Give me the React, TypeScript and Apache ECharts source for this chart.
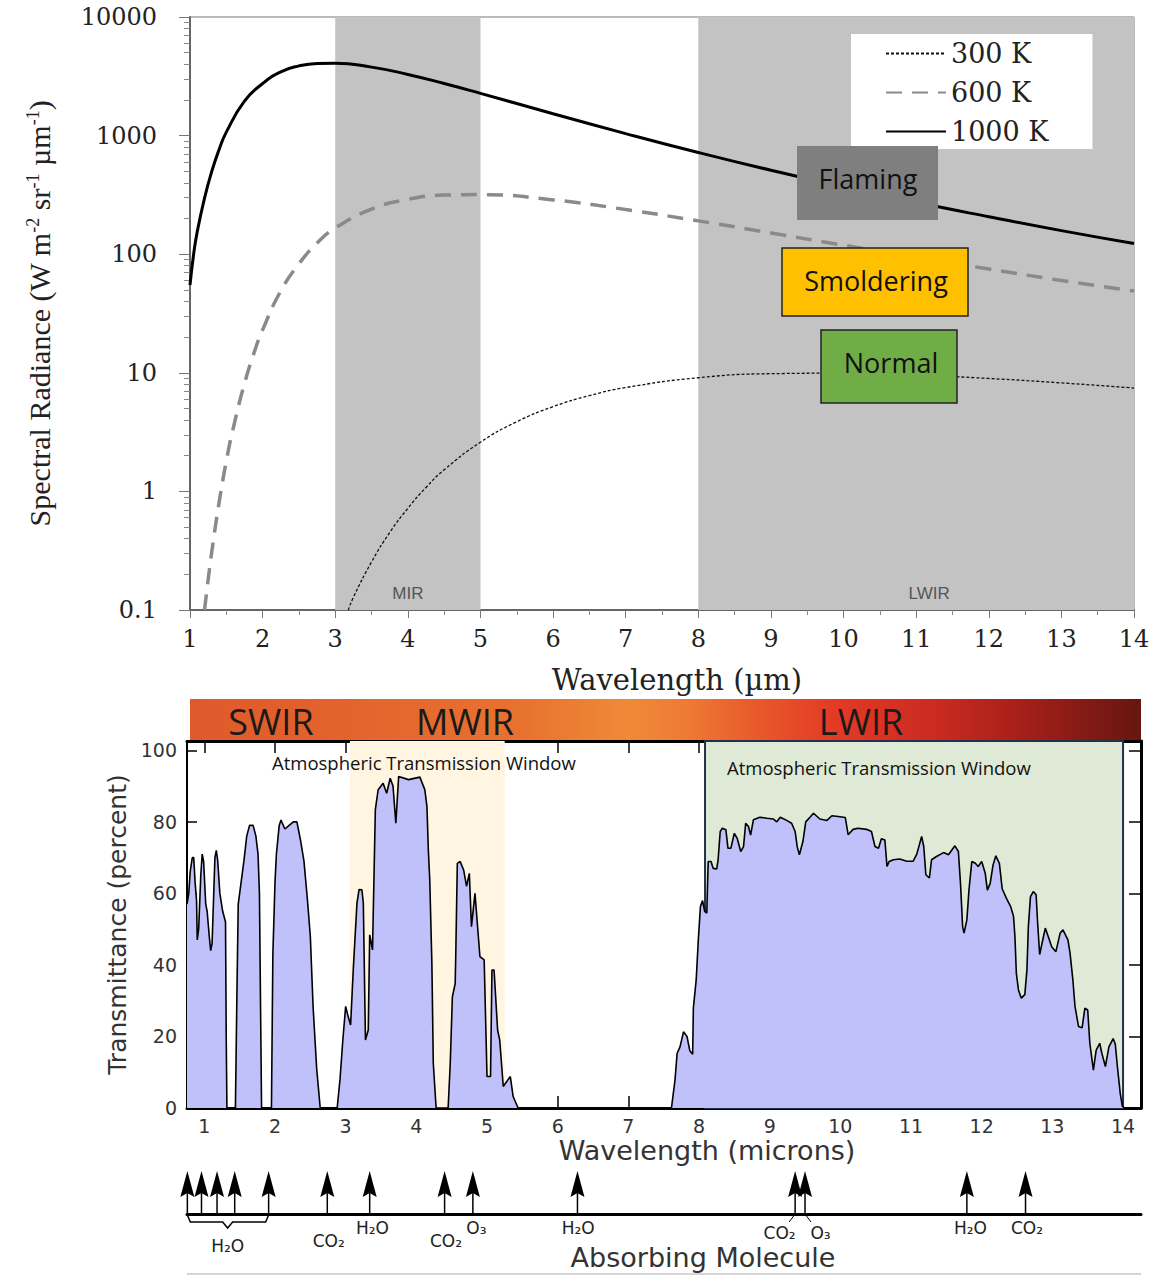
import React, { useEffect, useRef } from 'react';
import * as echarts from 'echarts';

// ---------- Top chart: blackbody spectral radiance ----------
const wl1000 = [1, 1.05, 1.1, 1.2, 1.3, 1.4, 1.5, 1.75, 2, 2.25, 2.5, 2.75, 3, 3.5, 4, 4.5, 5, 6, 7, 8, 9, 10, 11, 12, 13, 14];
const rad1000 = [55, 100, 155, 297, 500, 760, 1070, 1950, 2750, 3450, 3870, 4060, 4080, 3780, 3280, 2750, 2270, 1530, 1040, 720, 510, 370, 274, 207, 158, 123];

const wl600 = [1.2, 1.25, 1.3, 1.4, 1.5, 1.6, 1.75, 1.9, 2, 2.25, 2.5, 2.75, 3, 3.5, 4, 4.5, 5, 6, 7, 8, 9, 10, 11, 12, 13, 14];
const rad600 = [0.1, 0.18, 0.31, 0.8, 1.8, 3.5, 8.1, 15.9, 23, 49, 83, 124, 166, 240, 290, 315, 318, 287, 238, 191, 151, 119, 94, 75, 60, 49];

const wl300 = [3.18, 3.25, 3.5, 3.75, 4, 4.25, 4.5, 5, 5.5, 6, 6.5, 7, 8, 9, 10, 11, 12, 13, 14];
const rad300 = [0.1, 0.128, 0.254, 0.45, 0.72, 1.08, 1.52, 2.6, 3.87, 5.18, 6.42, 7.51, 9.08, 9.83, 9.93, 9.57, 8.96, 8.22, 7.44];

const radianceBands = [
  { name: 'MIR', from: 3, to: 5 },
  { name: 'LWIR', from: 8, to: 14 },
];

// ---------- Bottom chart: atmospheric transmittance ----------
const transWl = [
  0.755, 0.78, 0.8, 0.83, 0.85, 0.87, 0.89, 0.9, 0.92, 0.95, 0.97, 0.99, 1.02, 1.04, 1.07, 1.09, 1.11, 1.13, 1.15, 1.17, 1.19, 1.22, 1.26, 1.3, 1.31, 1.32,
  1.44, 1.46, 1.48, 1.52, 1.56, 1.6, 1.64, 1.69, 1.73, 1.76, 1.78, 1.8, 1.81,
  1.95, 1.97, 2.0, 2.02, 2.06, 2.085, 2.14, 2.2, 2.26, 2.31, 2.36, 2.41, 2.46, 2.5, 2.54, 2.59, 2.64,
  2.88, 2.92, 2.96, 3.0, 3.03, 3.07, 3.11, 3.16, 3.19, 3.23, 3.25, 3.28, 3.32, 3.34, 3.38, 3.42, 3.46, 3.53, 3.58, 3.63, 3.67, 3.71, 3.75, 3.89, 4.05, 4.12, 4.15, 4.17, 4.19, 4.22, 4.24, 4.28,
  4.45, 4.48, 4.51, 4.55, 4.56, 4.58, 4.62, 4.67, 4.71, 4.75, 4.78, 4.83, 4.9, 4.96, 5.0, 5.05, 5.07, 5.1, 5.15, 5.18, 5.23, 5.33, 5.37, 5.44,
  7.61, 7.66, 7.69, 7.73, 7.78, 7.83, 7.87, 7.91, 7.92, 7.96, 7.99, 8.02, 8.05, 8.08, 8.11, 8.13, 8.17, 8.2, 8.25, 8.27, 8.3, 8.33, 8.38, 8.41, 8.45, 8.5, 8.54, 8.59, 8.63, 8.66, 8.7, 8.73, 8.77, 8.86, 8.96,
  9.05, 9.1, 9.15, 9.24, 9.31, 9.36, 9.39, 9.42, 9.47, 9.51, 9.57, 9.62, 9.71, 9.81, 9.88, 9.97, 10.07, 10.11, 10.18, 10.25, 10.37, 10.44, 10.49, 10.54, 10.58, 10.63, 10.66, 10.69, 10.75, 10.84, 10.94,
  11.03, 11.08, 11.15, 11.18, 11.21, 11.26, 11.29, 11.36, 11.46, 11.53, 11.58, 11.62, 11.67, 11.7, 11.73, 11.75, 11.79, 11.82, 11.86, 11.91, 11.95,
  12.0, 12.05, 12.08, 12.12, 12.16, 12.2, 12.25, 12.29, 12.35, 12.41, 12.45, 12.47, 12.49, 12.52, 12.56, 12.61, 12.64, 12.66, 12.69, 12.73, 12.77, 12.79, 12.82, 12.85, 12.9, 12.94, 12.99,
  13.05, 13.11, 13.15, 13.22, 13.25, 13.29, 13.32, 13.37, 13.42, 13.46, 13.5, 13.53, 13.58, 13.62, 13.67, 13.7, 13.75, 13.8, 13.86, 13.89, 13.92, 13.96, 13.99, 14.02, 14.254,
];
const transPct = [
  57, 60, 66, 70, 70, 63, 58, 47, 50, 65, 71, 69, 57, 55, 48, 44, 46, 58, 70, 72, 69, 60, 55, 52, 20, 0,
  0, 30, 57, 63, 69, 76, 79, 79, 76, 71, 60, 20, 0,
  0, 43, 63, 71, 79, 80.5, 78, 79, 80, 80, 75, 69, 58, 48, 28, 11, 0,
  0, 8, 19, 28.4, 26, 23.2, 39.6, 57.3, 61.1, 61, 57.3, 19, 21.8, 48.4, 44.2, 83.4, 89, 90.8, 88, 92.2, 90, 79.6, 92.7, 91.8, 92.5, 89, 84.3, 72.1, 63.8, 40.5, 12.5, 0,
  0, 12.5, 31.1, 34.8, 45.1, 68.4, 68.9, 66.5, 62, 65.6, 50.7, 60, 42.3, 41.4, 8.8, 8.8, 38.6, 38.6, 21.8, 19, 6, 8.8, 3.2, 0,
  0, 7.8, 15.3, 17, 21.3, 20, 16, 15, 28, 35.8, 47, 56.3, 58, 55, 54.5, 68.9, 68.9, 67, 66.8, 69.4, 77.3, 78.2, 77.8, 72.6, 72.6, 76.8, 75.4, 71.7, 73.1, 79.6, 78.7, 76.3, 80.6, 81.3, 81,
  80.8, 80, 81.3, 80.4, 79.6, 77.3, 73, 70.8, 74.5, 80, 81.3, 82.4, 80.8, 80.4, 81.7, 81.5, 81.2, 76.4, 77.9, 78.2, 77.9, 77.3, 73.1, 72.6, 75.3, 74.9, 67.5, 68.9, 69.4, 69.6, 69,
  69, 70.9, 75.9, 73.1, 65.2, 64.3, 69.4, 70.3, 71.4, 70.8, 72.2, 73.3, 71.7, 62.8, 50.7, 48.9, 52.6, 61, 68.9, 68.4, 67.5,
  68.9, 65.6, 60.9, 62.8, 67.9, 70.5, 68.4, 61.3, 58.6, 56.3, 53.6, 48, 37.7, 33, 30.7, 31.7, 38.6, 50.7, 59.1, 60.5, 59.6, 52.2, 42.9, 45.7, 50.3, 48, 45.1,
  43.7, 48.9, 49.8, 47, 43.3, 35.8, 28.4, 22.8, 22.4, 27.9, 27.4, 18.1, 10.6, 16.2, 18.1, 15.3, 11.6, 17.1, 19.4, 17.9, 11.6, 4.1, 0.5, 0, 0,
];

const windowBands = [
  { from: 3.06, to: 5.25, kind: 'mwir' },
  { from: 8.085, to: 14.0, kind: 'lwir' },
];

const wlTicks = [1, 2, 3, 4, 5, 6, 7, 8, 9, 10, 11, 12, 13, 14];

// absorbing molecules
const absorberWl = [0.76, 0.96, 1.18, 1.43, 1.91, 2.74, 3.34, 4.4, 4.8, 6.28, 9.36, 9.5, 11.79, 12.62];
const absorberLabelText = ['H₂O', 'CO₂', 'H₂O', 'CO₂', 'O₃', 'H₂O', 'CO₂', 'O₃', 'H₂O', 'CO₂'];
const absorberLabelWl = [1.33, 2.76, 3.38, 4.42, 4.85, 6.29, 9.14, 9.72, 11.84, 12.64];
const absorberLabelRow = [2, 1, 0, 1, 0, 0, 3, 3, 0, 0];
const absorberLabelArrow = [null, null, null, null, null, null, 9.36, 9.5, null, null];
const braceRange = [0.76, 1.91];

const minorLogTicks: number[] = [];
for (let n = -1; n <= 3; n++) for (let k = 2; k <= 9; k++) minorLogTicks.push(Math.log10(k * Math.pow(10, n)));

const rowOffset = [14, 27, 32, 19];

function buildOption() {
  const serif = 'DejaVu Serif';
  const sans = 'DejaVu Sans';
  const xMinB = 0.755;
  const xMaxB = 14.254;

  return {
    animation: false,
    backgroundColor: '#fff',
    grid: [
      { left: 190, top: 17, width: 944, height: 593, show: true, borderColor: '#777', borderWidth: 1, backgroundColor: 'transparent' },
      { left: 187, top: 741, width: 954, height: 367 },
      { left: 187, top: 1160, width: 954, height: 54 },
    ],
    legend: {
      data: ['300 K', '600 K', '1000 K'],
      orient: 'vertical',
      left: 851,
      top: 34,
      padding: [6, 44, 4, 34],
      itemWidth: 60,
      itemHeight: 20,
      itemGap: 12,
      backgroundColor: '#fff',
      itemStyle: { opacity: 0 },
      textStyle: { fontFamily: serif, fontSize: 27, color: '#222' },
      selectedMode: false,
    },
    xAxis: [
      {
        gridIndex: 0, type: 'value', min: 1, max: 14, interval: 1,
        axisLine: { show: true, onZero: false, lineStyle: { color: '#666', width: 2 } },
        axisTick: { show: true, inside: false, length: 8, lineStyle: { color: '#777' } },
        minorTick: { show: true, splitNumber: 2, length: 5, lineStyle: { color: '#888' } },
        splitLine: { show: false },
        axisLabel: { fontFamily: serif, fontSize: 24, color: '#222', margin: 17 },
        name: 'Wavelength (µm)', nameLocation: 'middle', nameGap: 55,
        nameTextStyle: { fontFamily: serif, fontSize: 29, color: '#222', padding: [0, 0, 0, 30] },
      },
      {
        gridIndex: 1, type: 'value', min: xMinB, max: xMaxB, position: 'bottom',
        axisLine: { show: true, onZero: false, lineStyle: { color: '#000', width: 3 } },
        axisTick: { show: true, inside: true, length: 12, customValues: wlTicks, lineStyle: { color: '#000', width: 1.5 } },
        splitLine: { show: false },
        axisLabel: { customValues: wlTicks, fontFamily: sans, fontSize: 19, color: '#333', margin: 8 },
        name: 'Wavelength (microns)', nameLocation: 'middle', nameGap: 29,
        nameTextStyle: { fontFamily: sans, fontSize: 27, color: '#333', padding: [0, 0, 0, 86] },
      },
      {
        gridIndex: 1, type: 'value', min: xMinB, max: xMaxB, position: 'top',
        axisLine: { show: true, onZero: false, lineStyle: { color: '#000', width: 3 } },
        axisTick: { show: true, inside: true, length: 12, customValues: wlTicks, lineStyle: { color: '#000', width: 1.5 } },
        splitLine: { show: false },
        axisLabel: { show: false },
      },
      {
        gridIndex: 2, type: 'value', min: xMinB, max: xMaxB, position: 'bottom',
        axisLine: { show: true, onZero: false, lineStyle: { color: '#000', width: 3 } },
        axisTick: { show: false },
        splitLine: { show: false },
        axisLabel: { show: false },
        name: 'Absorbing Molecule', nameLocation: 'middle', nameGap: 30,
        nameTextStyle: { fontFamily: sans, fontSize: 27, color: '#333', padding: [0, 0, 0, 78] },
      },
    ],
    yAxis: [
      {
        gridIndex: 0, type: 'log', logBase: 10, min: 0.1, max: 10000, splitNumber: 5,
        axisLine: { show: true, onZero: false, lineStyle: { color: '#666', width: 2 } },
        axisTick: { show: true, length: 11, lineStyle: { color: '#777' } },
        splitLine: { show: false },
        axisLabel: {
          fontFamily: serif, fontSize: 24, color: '#222', margin: 33,
          formatter: (v: number) => (v < 1 ? '0.1' : String(Math.round(v))),
        },
        name: 'Spectral Radiance (W m{s|-2} sr{s|-1} µm{s|-1})',
        nameLocation: 'middle', nameGap: 136,
        nameTextStyle: {
          fontFamily: 'Liberation Serif', fontSize: 30, color: '#222',
          rich: { s: { fontFamily: 'Liberation Serif', fontSize: 18, color: '#222', verticalAlign: 'top' } },
        },
      },
      {
        gridIndex: 0, type: 'value', min: -1, max: 4, position: 'left',
        axisLine: { show: false, onZero: false },
        axisTick: { show: true, length: 6, customValues: minorLogTicks, lineStyle: { color: '#888' } },
        axisLabel: { show: false },
        splitLine: { show: false },
      },
      {
        gridIndex: 1, type: 'value', min: 0, max: 102.6, interval: 20, position: 'left',
        axisLine: { show: true, onZero: false, lineStyle: { color: '#000', width: 2 } },
        axisTick: { show: true, inside: true, length: 10, lineStyle: { color: '#000', width: 1.5 } },
        splitLine: { show: false },
        axisLabel: {
          fontFamily: sans, fontSize: 19, color: '#333', margin: 10,
          formatter: (v: number) => (Math.abs(v % 20) < 1e-6 && v <= 100 ? String(v) : ''),
        },
        name: 'Transmittance (percent)', nameLocation: 'middle', nameGap: 52,
        nameTextStyle: { fontFamily: sans, fontSize: 25, color: '#333' },
      },
      {
        gridIndex: 1, type: 'value', min: 0, max: 102.6, interval: 20, position: 'right',
        axisLine: { show: true, onZero: false, lineStyle: { color: '#000', width: 3 } },
        axisTick: { show: true, inside: true, length: 12, lineStyle: { color: '#000', width: 1.5 } },
        splitLine: { show: false },
        axisLabel: { show: false },
      },
      {
        gridIndex: 2, type: 'value', min: 0, max: 1, show: false,
      },
    ],
    series: [
      {
        name: '300 K', type: 'line', xAxisIndex: 0, yAxisIndex: 0, symbol: 'none', smooth: 0.5, z: 3,
        lineStyle: { color: '#111', width: 1.3, type: [3, 2] },
        data: wl300.map((w, i) => [w, rad300[i]]),
      },
      {
        name: '600 K', type: 'line', xAxisIndex: 0, yAxisIndex: 0, symbol: 'none', smooth: 0.5, z: 3,
        lineStyle: { color: '#8a8a8a', width: 3.5, type: [16, 10] },
        data: wl600.map((w, i) => [w, rad600[i]]),
      },
      {
        name: '1000 K', type: 'line', xAxisIndex: 0, yAxisIndex: 0, symbol: 'none', smooth: 0.5, z: 3,
        lineStyle: { color: '#000', width: 3 },
        data: wl1000.map((w, i) => [w, rad1000[i]]),
        markArea: {
          silent: true,
          itemStyle: { color: '#c3c3c3' },
          label: { show: true, position: 'insideBottom', distance: 8, color: '#555', fontFamily: 'Liberation Sans', fontSize: 17 },
          data: radianceBands.map((b) => [
            { name: b.name, xAxis: b.from, label: b.name === 'LWIR' ? { offset: [13, 0] } : {} },
            { xAxis: b.to },
          ]),
        },
      },
      {
        name: 'Transmittance', type: 'line', xAxisIndex: 1, yAxisIndex: 2, symbol: 'none', z: 3,
        lineStyle: { color: '#000', width: 1.6 },
        areaStyle: { color: '#c0c0fb', opacity: 1, origin: 'start' },
        data: transWl.map((w, i) => [w, transPct[i]]),
        markArea: {
          silent: true,
          data: windowBands.map((b) => [
            b.kind === 'mwir'
              ? { xAxis: b.from, itemStyle: { color: '#fff5e1' } }
              : { xAxis: b.from, itemStyle: { color: '#dfead6', borderColor: '#22314d', borderWidth: 2 } },
            { xAxis: b.to },
          ]),
        },
      },
      {
        name: 'Absorbers', type: 'custom', xAxisIndex: 3, yAxisIndex: 4, z: 5,
        data: absorberWl.map((w) => [w, 0]),
        renderItem: (params: any, api: any) => {
          const p = api.coord([api.value(0), 0]);
          const x = p[0];
          const base = p[1];
          return {
            type: 'group',
            children: [
              { type: 'line', shape: { x1: x, y1: base, x2: x, y2: base - 22 }, style: { stroke: '#000', lineWidth: 1.5 } },
              { type: 'polygon', shape: { points: [[x, base - 43], [x + 7, base - 17], [x, base - 21], [x - 7, base - 17]] }, style: { fill: '#000' } },
            ],
          };
        },
      },
      {
        name: 'AbsorberLabels', type: 'custom', xAxisIndex: 3, yAxisIndex: 4, z: 5,
        data: absorberLabelWl.map((w, i) => [w, absorberLabelRow[i]]),
        renderItem: (params: any, api: any) => {
          const i = params.dataIndex;
          const p = api.coord([api.value(0), 0]);
          const x = p[0];
          const base = p[1];
          const row = absorberLabelRow[i];
          const children: any[] = [
            {
              type: 'text',
              style: {
                text: absorberLabelText[i], x, y: base + rowOffset[row],
                textAlign: 'center', textVerticalAlign: 'middle',
                font: '17px "DejaVu Sans"', fill: '#222',
              },
            },
          ];
          if (row === 2) {
            const a = api.coord([braceRange[0], 0])[0];
            const b = api.coord([braceRange[1], 0])[0];
            const m = x;
            children.push({
              type: 'polyline',
              shape: { points: [[a, base + 1], [a + 3, base + 8], [m - 5, base + 8], [m, base + 14], [m + 5, base + 8], [b - 3, base + 8], [b, base + 1]] },
              style: { stroke: '#000', lineWidth: 1.5, fill: null },
            });
          }
          const aw = absorberLabelArrow[i];
          if (aw != null) {
            const ax = api.coord([aw, 0])[0];
            children.push({
              type: 'line',
              shape: { x1: ax, y1: base, x2: ax + (x < ax ? -6 : 6), y2: base + 8 },
              style: { stroke: '#000', lineWidth: 1 },
            });
          }
          return { type: 'group', children };
        },
      },
    ],
    graphic: [
      // spectral colour bar
      {
        type: 'rect', z: 100, shape: { x: 190, y: 699, width: 951, height: 41 },
        style: {
          fill: {
            type: 'linear', x: 0, y: 0, x2: 1, y2: 0,
            colorStops: [
              { offset: 0, color: '#df5a2b' },
              { offset: 0.15, color: '#e3622d' },
              { offset: 0.35, color: '#e8722f' },
              { offset: 0.46, color: '#ef8a38' },
              { offset: 0.52, color: '#ee7b34' },
              { offset: 0.6, color: '#e9572b' },
              { offset: 0.68, color: '#e23a25' },
              { offset: 0.78, color: '#cc2b21' },
              { offset: 0.88, color: '#a31f19' },
              { offset: 1, color: '#661611' },
            ],
          },
        },
      },
      { type: 'text', z: 101, style: { text: 'SWIR', x: 271, y: 721, textAlign: 'center', textVerticalAlign: 'middle', font: '36px "Open Sans"', fill: '#1a1a1a' } },
      { type: 'text', z: 101, style: { text: 'MWIR', x: 465, y: 721, textAlign: 'center', textVerticalAlign: 'middle', font: '36px "Open Sans"', fill: '#1a1a1a' } },
      { type: 'text', z: 101, style: { text: 'LWIR', x: 861, y: 721, textAlign: 'center', textVerticalAlign: 'middle', font: '36px "Open Sans"', fill: '#1a1a1a' } },
      // window captions
      { type: 'text', z: 101, style: { text: 'Atmospheric Transmission Window', x: 272, y: 762, textAlign: 'left', textVerticalAlign: 'middle', font: '18.5px "Open Sans"', fill: '#111' } },
      { type: 'text', z: 101, style: { text: 'Atmospheric Transmission Window', x: 727, y: 767, textAlign: 'left', textVerticalAlign: 'middle', font: '18.5px "Open Sans"', fill: '#111' } },
      // annotation boxes in top chart
      { type: 'rect', z: 100, shape: { x: 797, y: 146, width: 141, height: 74 }, style: { fill: '#7f7f7f' } },
      { type: 'text', z: 101, style: { text: 'Flaming', x: 868, y: 178, textAlign: 'center', textVerticalAlign: 'middle', font: '27px "Open Sans"', fill: '#111' } },
      { type: 'rect', z: 100, shape: { x: 782, y: 248, width: 186, height: 68 }, style: { fill: '#ffc000', stroke: '#222', lineWidth: 1.5 } },
      { type: 'text', z: 101, style: { text: 'Smoldering', x: 876, y: 280, textAlign: 'center', textVerticalAlign: 'middle', font: '27px "Open Sans"', fill: '#111' } },
      { type: 'rect', z: 100, shape: { x: 821, y: 330, width: 136, height: 73 }, style: { fill: '#70ad47', stroke: '#222', lineWidth: 1.5 } },
      { type: 'text', z: 101, style: { text: 'Normal', x: 891, y: 362, textAlign: 'center', textVerticalAlign: 'middle', font: '27px "Open Sans"', fill: '#111' } },
      // bottom rule
      { type: 'line', z: 100, shape: { x1: 187, y1: 1274, x2: 1141, y2: 1274 }, style: { stroke: '#c8c8c8', lineWidth: 1.5 } },
    ],
  };
}

export default function App() {
  const ref = useRef<HTMLDivElement>(null);
  useEffect(() => {
    document.body.style.margin = '0';
    const chart = echarts.init(ref.current as HTMLDivElement, null, { renderer: 'svg' });
    chart.setOption(buildOption() as any);
    return () => chart.dispose();
  }, []);
  return <div ref={ref} style={{ width: 1158, height: 1276 }} />;
}
